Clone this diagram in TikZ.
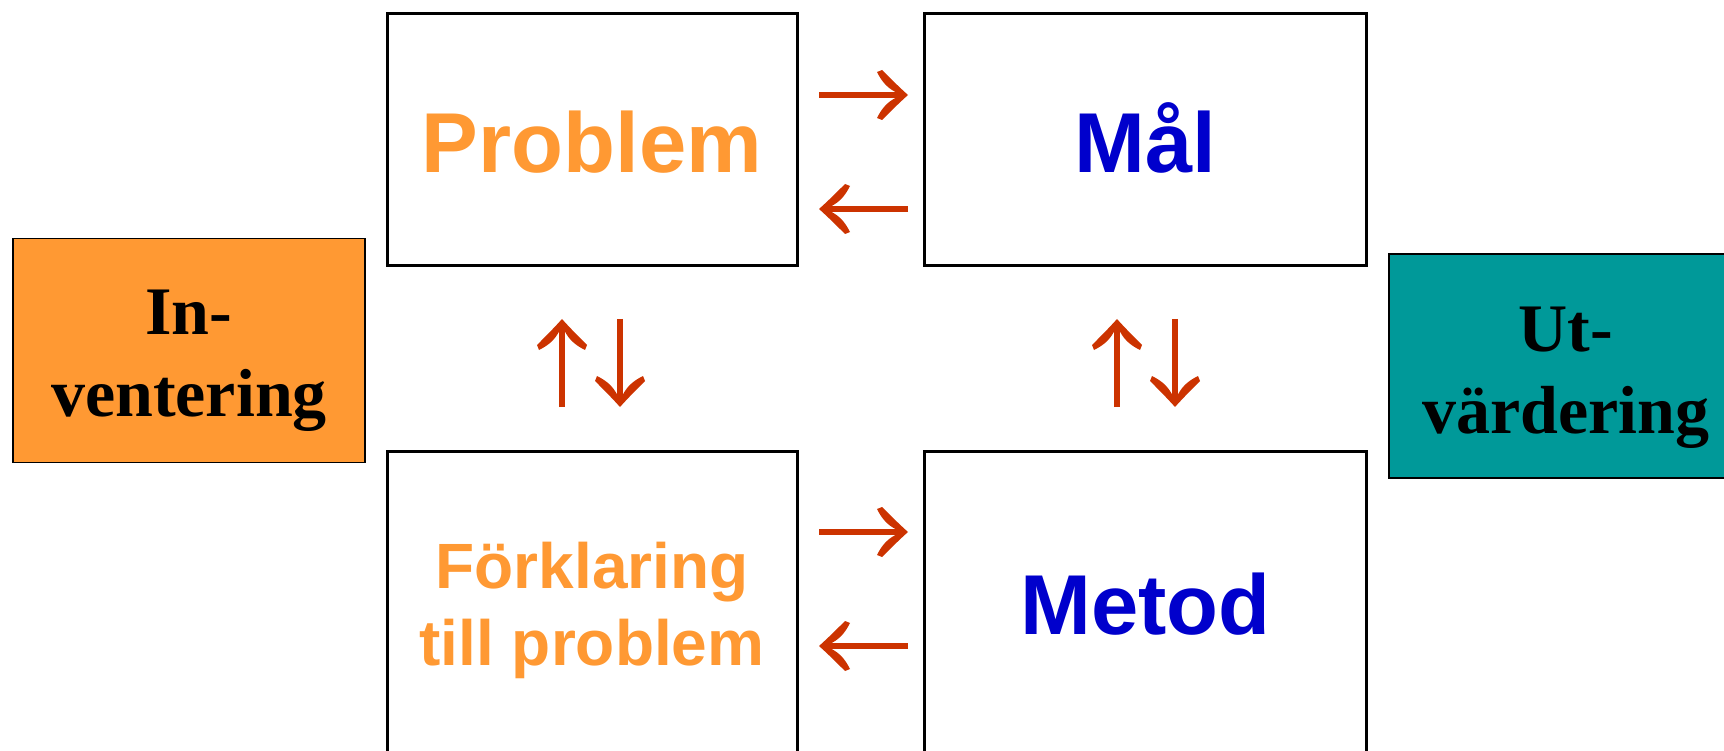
\documentclass[tikz,border=0pt]{standalone}
\usepackage{fontspec}
\setmainfont{Liberation Serif}
\newfontfamily\arialfont{Liberation Sans}
\usetikzlibrary{arrows.meta}
\definecolor{orng}{HTML}{FF9933}
\definecolor{tealbox}{HTML}{009999}
\definecolor{blu}{HTML}{0000CC}
\definecolor{arrred}{HTML}{CC3300}

\pgfdeclarearrow{
  name = Glyph,
  setup code = {
    \pgfarrowssettipend{0pt}
    \pgfarrowssetlineend{-10pt}
    \pgfarrowssetvisualbackend{-31pt}
    \pgfarrowssetbackend{-31pt}
    \pgfarrowshullpoint{0pt}{0pt}
    \pgfarrowsupperhullpoint{-31pt}{25pt}
  },
  drawing code = {
    \pgfpathmoveto{\pgfqpoint{0pt}{0pt}}
    \pgfpathcurveto{\pgfqpoint{-9pt}{8pt}}{\pgfqpoint{-19pt}{18pt}}{\pgfqpoint{-26pt}{25pt}}
    \pgfpathlineto{\pgfqpoint{-31pt}{23pt}}
    \pgfpathcurveto{\pgfqpoint{-27pt}{15pt}}{\pgfqpoint{-22pt}{8pt}}{\pgfqpoint{-13pt}{3.2pt}}
    \pgfpathlineto{\pgfqpoint{-13pt}{-3.2pt}}
    \pgfpathcurveto{\pgfqpoint{-22pt}{-8pt}}{\pgfqpoint{-27pt}{-15pt}}{\pgfqpoint{-31pt}{-23pt}}
    \pgfpathlineto{\pgfqpoint{-26pt}{-25pt}}
    \pgfpathcurveto{\pgfqpoint{-19pt}{-18pt}}{\pgfqpoint{-9pt}{-8pt}}{\pgfqpoint{0pt}{0pt}}
    \pgfpathclose
    \pgfusepathqfill
  }
}

\begin{document}
\begin{tikzpicture}[x=1pt,y=-1pt,
  wbox/.style={draw=black, line width=3pt, fill=white, inner sep=0pt, align=center, text depth=0pt},
  cbox/.style={draw=black, line width=1.3pt, inner sep=0pt, align=center, text depth=0pt,
    text=black, font=\bfseries\fontsize{68}{82}\selectfont},
  bigsans/.style={font=\arialfont\bfseries\fontsize{85}{102}\selectfont},
  smallsans/.style={font=\arialfont\bfseries\fontsize{64}{77}\selectfont},
  arr/.style={color=arrred, line width=6.4pt, -Glyph}]
\useasboundingbox (0,0) rectangle (1724,751);
\clip (0,0) rectangle (1724,751);

\node[wbox, bigsans, text=orng, minimum width=410pt, minimum height=252pt, text height=65.4pt] (prob) at (592,140) {Problem};
\node[wbox, bigsans, text=blu, minimum width=442pt, minimum height=252pt, text height=65.4pt] (mal) at (1145.5,140) {Mål};
\node[wbox, smallsans, text=orng, minimum width=410pt, minimum height=304pt, text height=124pt] (fork) at (592,603) {Förklaring\\till problem};
\node[wbox, bigsans, text=blu, minimum width=442pt, minimum height=304pt, text height=62.6pt] (metod) at (1145.5,603) {Metod};

\node[cbox, fill=orng, minimum width=352pt, minimum height=224pt, text height=132.4pt] (inv) at (189,350.5) {In-\\ventering};
\node[cbox, fill=tealbox, minimum width=354pt, minimum height=224pt, text height=134.6pt] (utv) at (1566,366) {Ut-\\värdering};

\coordinate (h1a) at (819,95);  \coordinate (h1b) at (908,95);
\coordinate (h2a) at (908,209); \coordinate (h2b) at (819,209);
\coordinate (h3a) at (819,532); \coordinate (h3b) at (908,532);
\coordinate (h4a) at (908,646); \coordinate (h4b) at (819,646);
\coordinate (v1a) at (562,407); \coordinate (v1b) at (562,319);
\coordinate (v2a) at (620,319); \coordinate (v2b) at (620,407);
\coordinate (v3a) at (1117,407); \coordinate (v3b) at (1117,319);
\coordinate (v4a) at (1175,319); \coordinate (v4b) at (1175,407);

\draw[arr] (h1a) -- (h1b);
\draw[arr] (h2a) -- (h2b);
\draw[arr] (h3a) -- (h3b);
\draw[arr] (h4a) -- (h4b);
\draw[arr] (v1a) -- (v1b);
\draw[arr] (v2a) -- (v2b);
\draw[arr] (v3a) -- (v3b);
\draw[arr] (v4a) -- (v4b);
\end{tikzpicture}
\end{document}
